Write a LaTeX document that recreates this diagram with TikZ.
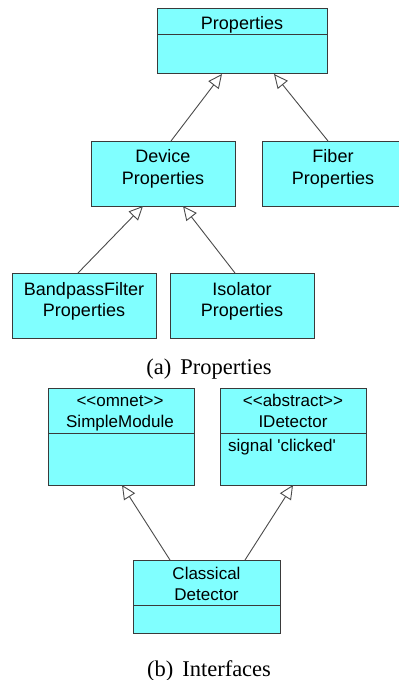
\documentclass[tikz,border=0pt]{standalone}
\usetikzlibrary{arrows.meta}
\font\bxf="Liberation Sans" at 18bp
\font\bxs="Liberation Sans" at 17bp
\font\capf="Liberation Serif" at 22.5bp
\definecolor{boxfill}{HTML}{80FFFF}
\definecolor{boxline}{HTML}{3A3A3A}
\definecolor{arrowline}{HTML}{4A4A4A}
\tikzset{
  cls/.style={draw=boxline, fill=boxfill, line width=1bp, inner sep=0pt, outer sep=0pt, anchor=north west},
  divl/.style={draw=boxline, line width=1bp},
  big/.style={font=\bxf, inner sep=0pt, anchor=base, text=black},
  small/.style={font=\bxs, inner sep=0pt, anchor=base, text=black},
  smallleft/.style={font=\bxs, inner sep=0pt, anchor=base west, text=black},
  captxt/.style={font=\capf, inner sep=0pt, anchor=base, text=black},
  inh/.style={draw=arrowline, line width=0.9bp, -{Triangle[open, length=14bp, width=13bp, line width=0.9bp]}}
}
\begin{document}
\begin{tikzpicture}[x=1bp,y=-1bp]
\useasboundingbox (0,0) rectangle (398,680);
% (a) Properties
\node[cls, minimum width=170bp, minimum height=65bp] (props) at (157,9) {};
\draw[divl] ([yshift=-26bp]props.north west) -- ([yshift=-26bp]props.north east);
\node[big] (propsT) at (242,30) {Properties};

\node[cls, minimum width=144bp, minimum height=65bp] (dev) at (91,141) {};
\node[big] (devT1) at (163,162.5) {Device};
\node[big] (devT2) at (163,184.3) {Properties};

\node[cls, minimum width=142bp, minimum height=65bp] (fib) at (262,141) {};
\node[big] (fibT1) at (333,162.5) {Fiber};
\node[big] (fibT2) at (333,184.3) {Properties};

\node[cls, minimum width=144bp, minimum height=65bp] (bpf) at (12,273) {};
\node[big] (bpfT1) at (84,295.3) {BandpassFilter};
\node[big] (bpfT2) at (84,316.8) {Properties};

\node[cls, minimum width=144bp, minimum height=65bp] (iso) at (170,273) {};
\node[big] (isoT1) at (242,295.3) {Isolator};
\node[big] (isoT2) at (242,316.8) {Properties};

\draw[inh] ([xshift=8bp]dev.north) -- ([xshift=-20bp]props.south);
\draw[inh] ([xshift=-5bp]fib.north) -- ([xshift=32bp]props.south);
\draw[inh] ([xshift=-6bp]bpf.north) -- ([xshift=-20bp]dev.south);
\draw[inh] ([xshift=-7bp]iso.north) -- ([xshift=20bp]dev.south);

\node[captxt] (capA) at (209,374.5) {(a)\hskip 9bp Properties};

% (b) Interfaces
\node[cls, minimum width=146bp, minimum height=97bp] (sm) at (48,388) {};
\draw[divl] ([yshift=-45bp]sm.north west) -- ([yshift=-45bp]sm.north east);
\node[small] (smT1) at (120,406.7) {<<omnet>>};
\node[small] (smT2) at (120,427.5) {SimpleModule};

\node[cls, minimum width=146bp, minimum height=97bp] (idet) at (220,388) {};
\draw[divl] ([yshift=-45bp]idet.north west) -- ([yshift=-45bp]idet.north east);
\node[small] (idT1) at (293,406.7) {<<abstract>>};
\node[small] (idT2) at (293,427.5) {IDetector};
\node[smallleft] (idA) at (228,451) {signal 'clicked'};

\node[cls, minimum width=147bp, minimum height=73bp] (cd) at (133,560) {};
\draw[divl] ([yshift=-45bp]cd.north west) -- ([yshift=-45bp]cd.north east);
\node[small] (cdT1) at (206.5,579.5) {Classical};
\node[small] (cdT2) at (206.5,600.5) {Detector};

\draw[inh] ([xshift=-36.5bp]cd.north) -- ([xshift=1bp]sm.south);
\draw[inh] ([xshift=38.5bp]cd.north) -- (idet.south);

\node[captxt] (capB) at (209,676) {(b)\hskip 9bp Interfaces};
\end{tikzpicture}
\end{document}
